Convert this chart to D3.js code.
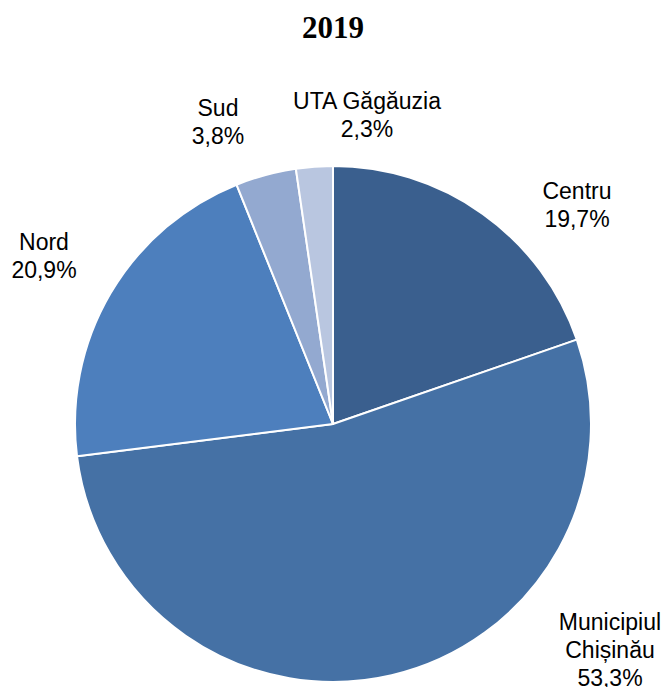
<!DOCTYPE html>
<html>
<head>
<meta charset="utf-8">
<script src="https://cdn.jsdelivr.net/npm/d3@7"></script>
<style>
  body { margin: 0; background: #fff; }
  text { font-family: "Liberation Sans", Arial, sans-serif; }
</style>
</head>
<body>
<div id="chart"></div>
<script>
var regions = ['Centru', 'Municipiul Chișinău', 'Nord', 'Sud', 'UTA Găgăuzia'];
var shares = [19.7, 53.3, 20.9, 3.8, 2.3];
var shareLabels = ['19,7%', '53,3%', '20,9%', '3,8%', '2,3%'];
var colors = ['#3a5f8e', '#4571a5', '#4d7fbd', '#93a9d0', '#b9c6e0'];
// label text lines and where Excel put them
var labelLines = [['Centru'], ['Municipiul', 'Chișinău'], ['Nord'], ['Sud'], ['UTA Găgăuzia']];
var labelPos = [[577, 191], [610, 622], [44, 242], [218, 108], [367, 101]];

var width = 666, height = 687;
var cx = 333, cy = 424, radius = 258;

var svg = d3.select("#chart")
    .append("svg")
      .attr("width", width)
      .attr("height", height);

svg.append("text")
    .attr("x", 333)
    .attr("y", 38)
    .attr("text-anchor", "middle")
    .style("font-family", '"Liberation Serif", "Times New Roman", serif')
    .style("font-weight", "bold")
    .style("font-size", "31px")
    .text("2019");

var pie = d3.pie().sort(null).value(function(d) { return d; });
var arc = d3.arc().innerRadius(0).outerRadius(radius);

var g = svg.append("g")
    .attr("transform", "translate(" + cx + "," + cy + ")");

g.selectAll("path")
    .data(pie(shares))
    .enter()
    .append("path")
    .attr("d", arc)
    .style("fill", function(d, i) { return colors[i]; })
    .style("stroke", "white")
    .style("stroke-width", 2)
    .style("stroke-linejoin", "round");

var lineH = 28;
regions.forEach(function(r, i) {
    var lines = labelLines[i].concat([shareLabels[i]]);
    var t = svg.append("text")
        .attr("text-anchor", "middle")
        .style("font-size", "23px")
        .style("fill", "#000");
    lines.forEach(function(l, j) {
        t.append("tspan")
            .attr("x", labelPos[i][0])
            .attr("y", labelPos[i][1] + j * lineH)
            .attr("dy", "0.35em")
            .text(l);
    });
});
</script>
</body>
</html>
